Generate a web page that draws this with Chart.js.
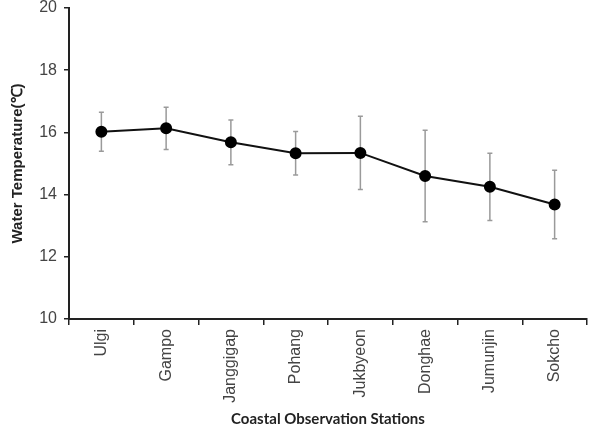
<!DOCTYPE html>
<html>
<head>
<meta charset="utf-8">
<script src="https://cdn.jsdelivr.net/npm/chart.js@4"></script>
<style>
  html, body { margin: 0; padding: 0; background: #fff; }
  #wrap { width: 594px; height: 430px; position: relative; }
</style>
</head>
<body>
<div id="wrap"><canvas id="myChart" width="594" height="430"></canvas></div>
<script>
const stations = ['Ulgi', 'Gampo', 'Janggigap', 'Pohang', 'Jukbyeon', 'Donghae', 'Jumunjin', 'Sokcho']
const meanTemp = [16.02, 16.13, 15.68, 15.33, 15.34, 14.6, 14.25, 13.68]
const errTemp = [0.63, 0.68, 0.72, 0.7, 1.18, 1.47, 1.08, 1.1]
const yTicks = [10, 12, 14, 16, 18, 20]

// error bars drawn through the y scale
const errorBars = {
  id: 'errorBars',
  beforeDatasetsDraw(chart) {
    const {ctx, scales: {x, y}} = chart
    ctx.save()
    ctx.strokeStyle = '#9a9a9a'
    ctx.lineWidth = 1.5
    meanTemp.forEach((v, i) => {
      const px = x.getPixelForValue(i)
      const top = y.getPixelForValue(v + errTemp[i])
      const bot = y.getPixelForValue(v - errTemp[i])
      ctx.beginPath()
      ctx.moveTo(px, top); ctx.lineTo(px, bot)
      ctx.moveTo(px - 2.5, top); ctx.lineTo(px + 2.5, top)
      ctx.moveTo(px - 2.5, bot); ctx.lineTo(px + 2.5, bot)
      ctx.stroke()
    })
    ctx.restore()
  }
}

const ctx = document.getElementById('myChart').getContext('2d')
new Chart(ctx, {
  type: 'line',
  data: {
    labels: stations,
    datasets: [{
      data: meanTemp,
      borderColor: '#111',
      backgroundColor: '#000',
      borderWidth: 2,
      pointRadius: 5,
      pointBackgroundColor: '#000',
      pointBorderColor: '#000',
      tension: 0,
    }],
  },
  options: {
    responsive: false,
    animation: false,
    layout: {padding: {top: 8, right: 2, left: 0, bottom: 0}},
    plugins: {legend: {display: false}, tooltip: {enabled: false}},
    scales: {
      x: {
        offset: true,
        grid: {display: true, drawOnChartArea: false, offset: true, tickLength: 6, color: '#222', lineWidth: 1.5},
        border: {color: '#222', width: 2},
        ticks: {
          minRotation: 90, maxRotation: 90, padding: 4,
          color: '#444', font: {family: 'Liberation Sans', size: 16},
        },
        title: {
          display: true, text: 'Coastal Observation Stations', color: '#222',
          font: {family: 'Lato', size: 15, weight: 'bold'}, padding: {top: 6, bottom: 2},
        },
        afterFit(scale) { scale.height = 111 },
      },
      y: {
        min: 10, max: 20,
        afterBuildTicks(scale) { scale.ticks = yTicks.map(v => ({value: v})) },
        grid: {display: true, drawOnChartArea: false, tickLength: 5, color: '#222', lineWidth: 1.5},
        border: {color: '#222', width: 2},
        ticks: {color: '#444', padding: 7, font: {family: 'Liberation Sans', size: 16}},
        title: {
          display: true, text: 'Water Temperature(℃)', color: '#222',
          font: {family: 'Liberation Sans', size: 15, weight: 'bold'}, padding: {top: 9, bottom: 6},
        },
        afterFit(scale) {
          scale.width = 69
          scale.paddingTop = 0
          scale.paddingBottom = 0
        },
      },
    },
  },
  plugins: [errorBars],
})
</script>
</body>
</html>
